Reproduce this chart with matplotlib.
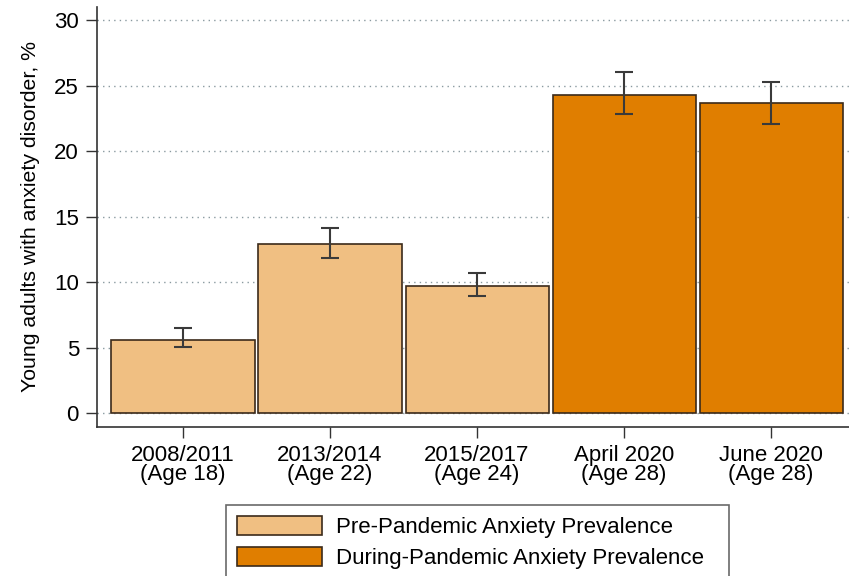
import matplotlib.pyplot as plt
import numpy as np

# Anxiety prevalence by survey wave
waves = ['2008/2011\n(Age 18)', '2013/2014\n(Age 22)', '2015/2017\n(Age 24)',
         'April 2020\n(Age 28)', 'June 2020\n(Age 28)']
prevalence = [5.6, 12.9, 9.7, 24.3, 23.7]
ci_low = [5.05, 11.85, 8.9, 22.8, 22.1]
ci_high = [6.5, 14.15, 10.7, 26.0, 25.25]
pandemic = [False, False, False, True, True]

pre_col = '#F0BF82'
during_col = '#E07E00'
edge_col = '#3b2a1a'

plt.rcParams['font.family'] = 'Liberation Sans'
fs = 16

fig = plt.figure(figsize=(8.49, 5.76), dpi=100)
ax = fig.add_axes([97/849, 1 - 427/576, (849 - 97)/849, (427 - 7)/576])

x = np.arange(len(waves))
cols = [during_col if p else pre_col for p in pandemic]
ax.bar(x, prevalence, width=0.973, color=cols, edgecolor=edge_col,
       linewidth=1.2, zorder=2)

prev = np.array(prevalence)
yerr = np.vstack([prev - np.array(ci_low), np.array(ci_high) - prev])
ax.errorbar(x, prev, yerr=yerr, fmt='none', ecolor='#3a3a3a',
            elinewidth=1.5, capsize=6.2, capthick=1.5, zorder=3)

ax.set_ylim(-1.07, 31.0)
ax.set_xlim(-0.585, 4.53)
ax.set_yticks([0, 5, 10, 15, 20, 25, 30])
ax.set_xticks(x)
ax.set_xticklabels(waves, fontsize=fs, linespacing=0.9)
ax.tick_params(axis='y', labelsize=fs, length=8, width=1, color='#333333', pad=5)
ax.tick_params(axis='x', length=8, width=1, color='#333333', pad=5)
ax.grid(axis='y', linestyle=(0, (1, 3)), color='#8a9aa0', linewidth=1.0, zorder=0)

for s in ['top', 'right']:
    ax.spines[s].set_visible(False)
for s in ['left', 'bottom']:
    ax.spines[s].set_color('#333333')
    ax.spines[s].set_linewidth(1.2)

ax.set_ylabel('Young adults with anxiety disorder, %', fontsize=15.3, labelpad=10)

# legend box sits below the axes and runs off the bottom edge
handles = [plt.Rectangle((0, 0), 1, 1, facecolor=pre_col, edgecolor=edge_col, linewidth=1.2),
           plt.Rectangle((0, 0), 1, 1, facecolor=during_col, edgecolor=edge_col, linewidth=1.2)]
leg = fig.legend(handles, ['Pre-Pandemic Anxiety Prevalence',
                           'During-Pandemic Anxiety Prevalence'],
                 loc='upper left',
                 bbox_to_anchor=(226/849, 1 - 505/576 - 0.01, 503/849, 0.01),
                 mode='expand',
                 fontsize=fs, frameon=True, fancybox=False, handlelength=3.8,
                 handleheight=0.9, borderpad=0.5, labelspacing=0.42,
                 handletextpad=0.65, borderaxespad=0)
leg.get_frame().set_edgecolor('#444444')
leg.get_frame().set_linewidth(1.2)

fig.savefig('out.png', dpi=100)
